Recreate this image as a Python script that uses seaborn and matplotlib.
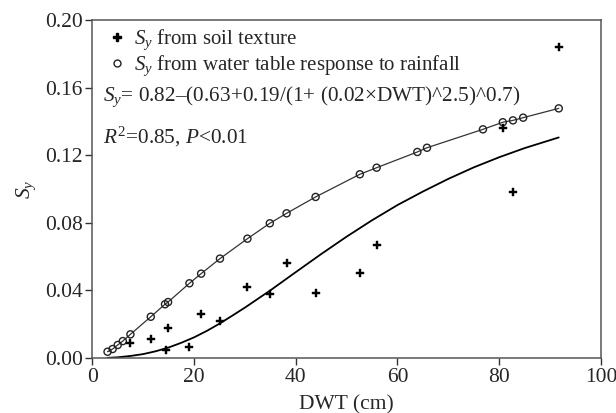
import matplotlib
matplotlib.use("Agg")
import matplotlib.pyplot as plt
import seaborn as sns
import pandas as pd
from matplotlib.lines import Line2D

# ---- data ----
dwt_rain = [3.0, 4.0, 5.0, 6.0, 7.5, 11.5, 14.3, 14.9, 19.1, 21.4, 25.1, 30.5, 34.9,
            38.2, 43.9, 52.6, 55.9, 63.9, 65.8, 76.8, 80.7, 82.7, 84.7, 91.7]
sy_rain = [0.0037, 0.0053, 0.0077, 0.0100, 0.0140, 0.0244, 0.0318, 0.0331, 0.0442,
           0.0499, 0.0588, 0.0706, 0.0797, 0.0856, 0.0953, 0.1087, 0.1126, 0.1219,
           0.1244, 0.1353, 0.1395, 0.1406, 0.1422, 0.1477]

dwt_soil = [7.5, 11.5, 14.5, 14.9, 19.1, 21.4, 25.1, 30.5, 34.9, 38.3, 43.9, 52.6,
            55.9, 80.7, 82.8, 91.7]
sy_soil = [0.0091, 0.0111, 0.0047, 0.0179, 0.0067, 0.0262, 0.0221, 0.0422, 0.0379,
           0.0560, 0.0385, 0.0501, 0.0667, 0.1359, 0.0980, 0.1842]

dwt_fit = [3, 5, 7.5, 10, 12.5, 15, 17.5, 20, 22.5, 25, 27.5, 30, 35, 40, 45, 50,
           55, 60, 65, 70, 75, 80, 85, 91.7]
sy_fit = [0.0001, 0.0004, 0.0012, 0.0023, 0.0040, 0.0062, 0.0090, 0.0122, 0.0160,
          0.0203, 0.0250, 0.0298, 0.0400, 0.0508, 0.0615, 0.0718, 0.0815, 0.0905,
          0.0985, 0.1060, 0.1128, 0.1188, 0.1242, 0.1305]

xticks = [0, 20, 40, 60, 80, 100]
yticks = [0.00, 0.04, 0.08, 0.12, 0.16, 0.20]
ytick_labels = ["0.00", "0.04", "0.08", "0.12", "0.16", "0.20"]

df_rain = pd.DataFrame({"DWT": dwt_rain, "Sy": sy_rain})
df_soil = pd.DataFrame({"DWT": dwt_soil, "Sy": sy_soil})
df_fit = pd.DataFrame({"DWT": dwt_fit, "Sy": sy_fit})

sns.set_theme(style="ticks")
plt.rcParams["font.family"] = ["Liberation Serif", "DejaVu Serif"]
plt.rcParams["mathtext.fontset"] = "custom"
plt.rcParams["mathtext.rm"] = "Liberation Serif"
plt.rcParams["mathtext.it"] = "Liberation Serif:italic"
plt.rcParams["mathtext.bf"] = "Liberation Serif:bold"

fs_tick = 15.5
fs_leg = 15
fs_txt = 15.3
fig = plt.figure(figsize=(6.16, 4.13), dpi=100)
ax = fig.add_axes([0.1498, 0.1332, 0.8258, 0.8184])

sns.lineplot(data=df_rain, x="DWT", y="Sy", ax=ax, color="#333333", lw=0.9,
             sort=True, estimator=None)
sns.lineplot(data=df_fit, x="DWT", y="Sy", ax=ax, color="black", lw=1.3,
             sort=True, estimator=None)
sns.scatterplot(data=df_rain, x="DWT", y="Sy", ax=ax, marker="o", s=26,
                facecolor="none", edgecolor="#222222", linewidth=1.0, zorder=5)
sns.scatterplot(data=df_soil, x="DWT", y="Sy", ax=ax, marker="P", s=34,
                color="black", edgecolor="black", linewidth=0.3, zorder=6)

ax.set_xlim(0, 100)
ax.set_ylim(0, 0.20)
ax.set_xticks(xticks)
ax.set_xticklabels([str(v) for v in xticks])
ax.set_yticks(yticks)
ax.set_yticklabels(ytick_labels)
ax.tick_params(axis="both", labelsize=fs_tick, direction="out", length=5, width=1,
               color="#333333", pad=2)
for sp in ax.spines.values():
    sp.set_color("#555555")
    sp.set_linewidth(1.1)

ax.set_xlabel("DWT (cm)", fontsize=fs_tick, labelpad=6)
ax.set_ylabel(r"$S_y$", fontsize=fs_tick, labelpad=5)

handles = [
    Line2D([], [], ls="none", marker="P", markersize=5.5, color="black"),
    Line2D([], [], ls="none", marker="o", markersize=5, markerfacecolor="none",
           markeredgecolor="#222222", markeredgewidth=1.0),
]
labels = [r"$S_y$ from soil texture", r"$S_y$ from water table response to rainfall"]
ax.legend(handles, labels, loc="upper left", bbox_to_anchor=(0.0, 1.02),
          frameon=False, fontsize=fs_leg, handlelength=1.0, handletextpad=0.3,
          labelspacing=0.05, borderaxespad=0.3)

ax.text(0.022, 0.772,
        r"$S_y$= 0.82–(0.63+0.19/(1+ (0.02×DWT)^2.5)^0.7)",
        transform=ax.transAxes, fontsize=fs_txt, va="center", ha="left")
ax.text(0.022, 0.655, r"$R^2$=0.85, $P$<0.01",
        transform=ax.transAxes, fontsize=fs_txt, va="center", ha="left")

fig.savefig("out.png", dpi=100)
